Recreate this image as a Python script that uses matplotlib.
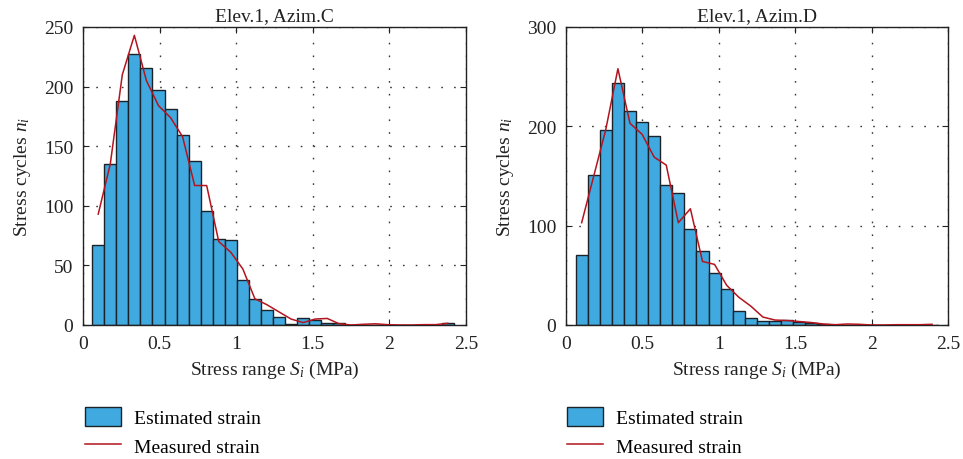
import numpy as np
import matplotlib
matplotlib.use("Agg")
import matplotlib.pyplot as plt

plt.rcParams['font.family'] = ['Liberation Serif', 'DejaVu Serif']
plt.rcParams['mathtext.fontset'] = 'custom'
plt.rcParams['mathtext.rm'] = 'Liberation Serif'
plt.rcParams['mathtext.it'] = 'Liberation Serif:italic'

# ---------------- data ----------------
titles = ["Elev.1, Azim.C", "Elev.1, Azim.D"]
n_bins = 30
range_C = (0.06, 2.42)
range_D = (0.063, 2.435)

estimated_C = [67, 135, 188, 227, 216, 197, 181, 159, 138, 96, 72, 71, 38, 22, 13,
               7, 1, 6, 4, 2, 1.4, 0, 0, 0, 0, 0, 0, 0, 0, 1.7]
measured_C = [93, 135, 210, 243, 205, 184, 174, 158, 117, 117, 70, 61, 47, 22, 17,
              11, 5, 2, 5, 5.5, 1, 0, 0.6, 1, 0.3, 0, 0, 0.3, 0.3, 1.4]

estimated_D = [70, 151, 196, 244, 215, 204, 190, 141, 133, 97, 74, 52, 36, 14, 7,
               4.5, 4, 5, 3, 1.7, 1, 0, 0, 0, 0, 0, 0, 0, 0, 0.5]
measured_D = [103, 150, 197, 258, 203, 192, 169, 161, 103, 117, 64, 61, 40, 28, 19,
              8, 5, 4.5, 3.5, 2.5, 1, 0.3, 1, 0.7, 0, 0, 0.3, 0.3, 0.3, 0.7]

x_ticks = [0, 0.5, 1, 1.5, 2, 2.5]
x_ticklabels = ["0", "0.5", "1", "1.5", "2", "2.5"]
y_ticks_C = [0, 50, 100, 150, 200, 250]
y_ticks_D = [0, 100, 200, 300]

legend_labels = ["Estimated strain", "Measured strain"]

# ---------------- style ----------------
bar_color = '#40AAE0'
edge_color = '#1c2328'
line_color = '#B3141E'
fs = 14

fig = plt.figure(figsize=(9.63, 4.6), dpi=100)
ax_C = fig.add_axes([83 / 963, 1 - 326 / 460, 383 / 963, 298 / 460])
ax_D = fig.add_axes([566 / 963, 1 - 326 / 460, 382 / 963, 298 / 460])

panels = [
    (ax_C, range_C, estimated_C, measured_C, y_ticks_C, titles[0], 85 / 963),
    (ax_D, range_D, estimated_D, measured_D, y_ticks_D, titles[1], 567 / 963),
]

for ax, rng, est, meas, yt, title, legx in panels:
    edges = np.linspace(rng[0], rng[1], n_bins + 1)
    centers = 0.5 * (edges[:-1] + edges[1:])
    bars = ax.bar(edges[:-1], est, width=np.diff(edges), align='edge',
                  color=bar_color, edgecolor=edge_color, linewidth=1.0,
                  label=legend_labels[0], zorder=2)
    line, = ax.plot(centers, meas, color=line_color, linewidth=1.1,
                    label=legend_labels[1], zorder=3)
    ax.set_xlim(0, 2.5)
    ax.set_ylim(yt[0], yt[-1])
    ax.set_xticks(x_ticks)
    ax.set_xticklabels(x_ticklabels)
    ax.set_yticks(yt)
    ax.grid(True, linestyle=(0, (1.2, 8)), color='#3a3a3a', linewidth=1.0, zorder=0)
    ax.set_axisbelow(True)
    ax.tick_params(direction='in', length=4, width=0.8, top=True, right=True,
                   labelsize=fs, pad=7, colors='#222222')
    for s in ax.spines.values():
        s.set_linewidth(1.0)
        s.set_color('#222222')
    ax.set_title(title, fontsize=fs, pad=5, color='#222222')
    ax.set_xlabel(r'Stress range $S_i$ (MPa)', fontsize=fs, labelpad=5, color='#222222')
    ax.set_ylabel(r'Stress cycles $n_i$', fontsize=fs, labelpad=8, color='#222222')
    ax.legend(handles=[bars, line], loc='upper left',
              bbox_to_anchor=(legx, 1 - 408 / 460), bbox_transform=fig.transFigure,
              frameon=False, fontsize=fs, borderpad=0, borderaxespad=0,
              handlelength=1.85, handleheight=1.1, handletextpad=0.65,
              labelspacing=0.45)

fig.savefig("out.png", dpi=100)
